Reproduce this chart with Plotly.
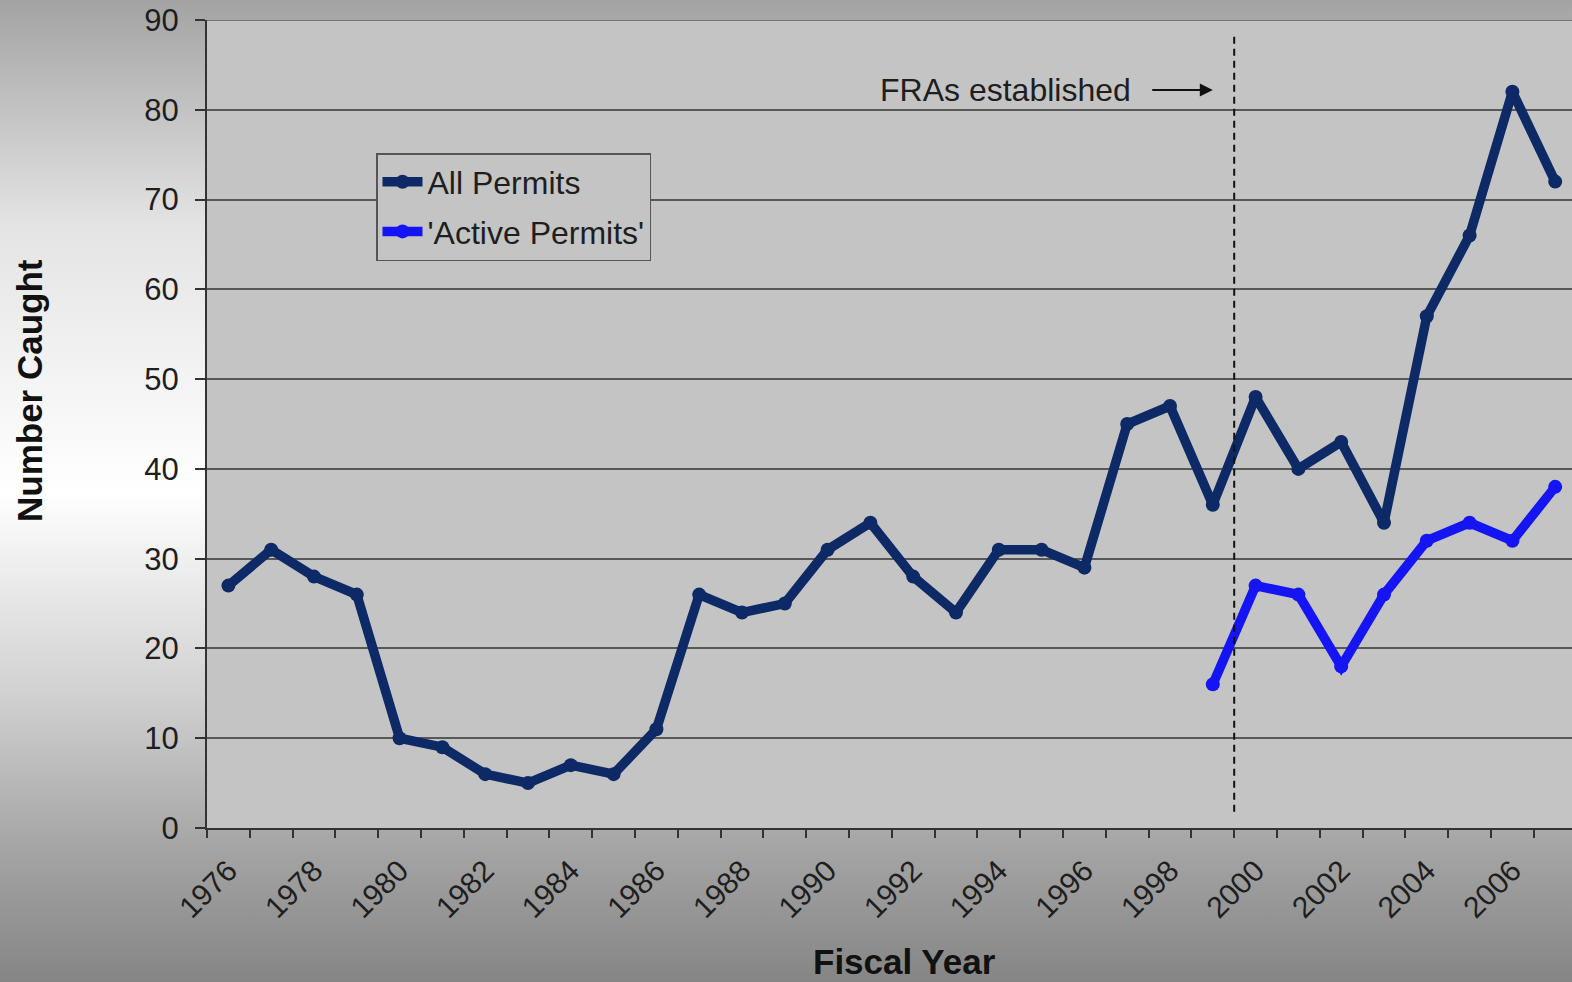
import base64
import plotly.graph_objects as go

years = list(range(1976, 2008))
all_permits = [27, 31, 28, 26, 10, 9, 6, 5, 7, 6, 11, 26, 24, 25, 31, 34, 28, 24,
               31, 31, 29, 45, 47, 36, 48, 40, 43, 34, 57, 66, 82, 72]
active_years = list(range(1999, 2008))
active_permits = [16, 27, 26, 18, 26, 32, 34, 32, 38]
label_years = list(range(1976, 2007, 2))
boundary_ticks = [y - 0.5 for y in range(1976, 2008)]
y_ticks = list(range(0, 91, 10))
fra_year = 1999.5

W, H = 1572, 982
ML, MR, MT, MB = 207, 0, 20, 154
PW, PH = W - ML - MR, H - MT - MB

svg = (
    "<svg xmlns='http://www.w3.org/2000/svg' width='1572' height='982' viewBox='0 0 1572 982' preserveAspectRatio='none'>"
    "<defs><linearGradient id='g' x1='0' y1='0' x2='0' y2='1'>"
    "<stop offset='0' stop-color='#a3a3a3'/>"
    "<stop offset='0.23' stop-color='#e4e4e4'/>"
    "<stop offset='0.5' stop-color='#ffffff'/>"
    "<stop offset='0.71' stop-color='#d0d0d0'/>"
    "<stop offset='0.87' stop-color='#a3a3a3'/>"
    "<stop offset='1' stop-color='#858585'/>"
    "</linearGradient></defs>"
    "<rect x='0' y='0' width='1572' height='982' fill='url(#g)'/></svg>"
)
bg_src = "data:image/svg+xml;base64," + base64.b64encode(svg.encode()).decode()

navy = "#0d2a66"
blue = "#1414f5"
txt = "#1e1e1e"

fig = go.Figure()
fig.add_trace(go.Scatter(
    x=years, y=all_permits, mode="lines+markers", name="All Permits", legendgroup="a",
    line=dict(color=navy, width=9.5), marker=dict(color=navy, size=14)))
fig.add_trace(go.Scatter(
    x=active_years, y=active_permits, mode="lines+markers", name="'Active Permits'",
    legendgroup="b",
    line=dict(color=blue, width=9.5), marker=dict(color=blue, size=14)))
# invisible trace to anchor the tick-mark axis
fig.add_trace(go.Scatter(x=[years[0]], y=[0], xaxis="x2", mode="markers",
                         marker=dict(opacity=0), showlegend=False, hoverinfo="skip"))

xr = [1975.5, 1975.5 + PW / 42.8]

fig.update_layout(
    width=W, height=H,
    margin=dict(l=ML, r=MR, t=MT, b=MB),
    paper_bgcolor="#c8c8c8",
    plot_bgcolor="#c4c4c4",
    font=dict(family="Liberation Sans, Arial, sans-serif", color=txt, size=30),
    showlegend=True,
    legend=dict(x=(376 - ML) / PW, y=(828 - 153) / PH, xanchor="left", yanchor="top",
                bgcolor="#c4c4c4", bordercolor="#555555", borderwidth=1.5,
                font=dict(size=32, color=txt), itemwidth=40,
                tracegroupgap=5),
    xaxis=dict(range=xr, tickmode="array", tickvals=label_years,
               ticktext=[str(y) for y in label_years], tickangle=-45,
               ticks="", showgrid=False, zeroline=False, ticklabelstandoff=11,
               showline=True, linecolor="#333333", linewidth=2,
               tickfont=dict(size=30, color=txt)),
    xaxis2=dict(range=xr, overlaying="x", anchor="y", side="bottom",
                tickmode="array", tickvals=boundary_ticks, ticks="outside",
                ticklen=9, tickwidth=1.5, tickcolor="#333333",
                showticklabels=False, showgrid=False, zeroline=False, showline=False),
    yaxis=dict(range=[0, 90], tickmode="array", tickvals=y_ticks,
               ticks="outside", ticklen=10, tickwidth=1.5, tickcolor="#333333",
               showgrid=True, gridcolor="#585858", gridwidth=1.5, ticklabelstandoff=10,
               zeroline=False, showline=True, linecolor="#333333", linewidth=2,
               tickfont=dict(size=31, color=txt)),
    images=[dict(source=bg_src, xref="paper", yref="paper",
                 x=-ML / PW, y=1 + MT / PH, sizex=W / PW, sizey=H / PH,
                 xanchor="left", yanchor="top", sizing="stretch", layer="below")],
    shapes=[
        dict(type="rect", xref="paper", yref="paper", x0=0, x1=1, y0=0, y1=1,
             fillcolor="#c4c4c4", line=dict(width=0), layer="below"),
        dict(type="line", xref="x", yref="y", x0=fra_year, x1=fra_year, y0=1.8, y1=88.3,
             line=dict(color="#111111", width=2, dash="7px,5px")),
        dict(type="line", xref="paper", yref="y", x0=0, x1=1, y0=90, y1=90,
             line=dict(color="#585858", width=1.5)),
    ],
    annotations=[
        dict(text="FRAs established", x=1997.13, y=82.2, xref="x", yref="y",
             xanchor="right", yanchor="middle", showarrow=False,
             font=dict(size=32, color=txt)),
        dict(text="", x=1999.0, y=82.2, xref="x", yref="y", ax=1997.55, ay=82.2,
             axref="x", ayref="y", showarrow=True, arrowhead=2, arrowsize=1.3,
             arrowwidth=2, arrowcolor="#111111"),
        dict(text="<b>Number Caught</b>", xref="paper", yref="paper",
             x=(30 - ML) / PW, y=(828 - 390) / PH, xanchor="center", yanchor="middle",
             textangle=-90, showarrow=False, font=dict(size=35, color="#111111")),
        dict(text="<b>Fiscal Year</b>", xref="paper", yref="paper",
             x=(904 - ML) / PW, y=-(962 - 828) / PH, xanchor="center", yanchor="middle",
             showarrow=False, font=dict(size=35, color="#111111")),
    ],
)

fig.write_html("out.html", config={"displayModeBar": False},
               post_script="document.body.style.margin='0';")
